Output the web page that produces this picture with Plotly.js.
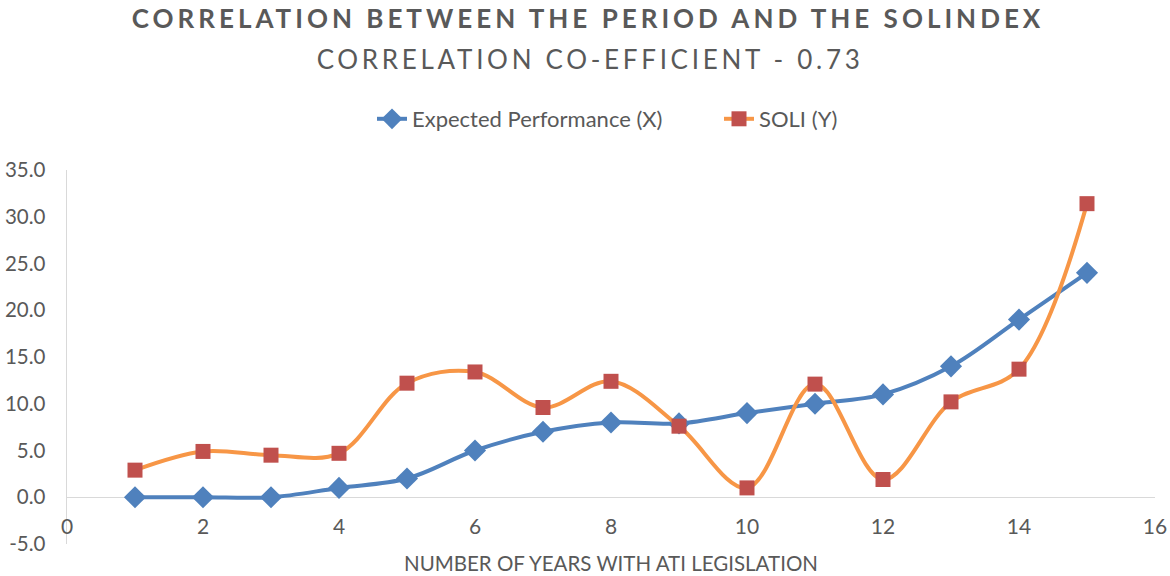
<!DOCTYPE html>
<html>
<head>
<meta charset="utf-8">
<script src="https://cdn.plot.ly/plotly-3.0.1.min.js"></script>
<style>
  html, body { margin: 0; padding: 0; background: #fff; }
  #chart { width: 1170px; height: 576px; }
</style>
</head>
<body>
<div id="chart"></div>
<script>
const years = [1, 2, 3, 4, 5, 6, 7, 8, 9, 10, 11, 12, 13, 14, 15];
const expectedPerformance = [0, 0, 0, 1.0, 2.0, 5.0, 7.0, 8.0, 7.9, 9.0, 10.0, 11.0, 14.0, 19.0, 24.0];
const soli = [2.9, 4.9, 4.5, 4.7, 12.2, 13.4, 9.6, 12.4, 7.6, 1.0, 12.1, 1.9, 10.2, 13.7, 31.4];
const seriesNames = ['Expected Performance (X)', 'SOLI (Y)'];
const xTickVals = [0, 2, 4, 6, 8, 10, 12, 14, 16];
const xTickText = ['0', '2', '4', '6', '8', '10', '12', '14', '16'];
const yTickVals = [-5, 0, 5, 10, 15, 20, 25, 30, 35];
const yTickText = ['-5.0', '0.0', '5.0', '10.0', '15.0', '20.0', '25.0', '30.0', '35.0'];
const titleText = 'CORRELATION BETWEEN THE PERIOD AND THE SOLINDEX';
const subtitleText = 'CORRELATION CO-EFFICIENT - 0.73';
const xTitle = 'NUMBER OF YEARS WITH ATI LEGISLATION';

const FONT = 'Lato, "Open Sans", sans-serif';
const GREY = '#595959';

const traces = [
  {
    x: years, y: expectedPerformance, name: seriesNames[0], legend: 'legend',
    type: 'scatter', mode: 'lines+markers',
    line: { color: '#4F81BD', width: 4, shape: 'spline', smoothing: 1 },
    marker: { symbol: 'diamond', size: 17, color: '#4F81BD' }
  },
  {
    x: years, y: soli, name: seriesNames[1], legend: 'legend2',
    type: 'scatter', mode: 'lines+markers',
    line: { color: '#F79646', width: 4, shape: 'spline', smoothing: 1 },
    marker: { symbol: 'square', size: 15, color: '#C0504D' }
  }
];

const legendStyle = {
  orientation: 'h', xanchor: 'left', xref: 'container',
  y: 1 - 119 / 576, yanchor: 'middle', yref: 'container',
  font: { family: FONT, size: 22, color: GREY }
};

const layout = {
  width: 1170, height: 576,
  margin: { l: 67, r: 15, t: 170, b: 32 },
  paper_bgcolor: '#ffffff', plot_bgcolor: '#ffffff',
  font: { family: FONT, color: GREY },
  showlegend: true,
  title: {
    text: '<b>' + titleText + '</b>',
    font: { family: FONT, size: 26, color: GREY },
    x: 588 / 1170, xanchor: 'center', xref: 'container',
    y: 1 - 19 / 576, yanchor: 'middle', yref: 'container'
  },
  annotations: [
    {
      text: subtitleText, showarrow: false,
      xref: 'paper', yref: 'paper', x: (590 - 67) / 1088, xanchor: 'center',
      y: (544 - 59) / 374, yanchor: 'middle',
      font: { family: FONT, size: 26, color: GREY }
    }
  ],
  legend: Object.assign({}, legendStyle, { x: 372 / 1170 }),
  legend2: Object.assign({}, legendStyle, { x: 719 / 1170 }),
  xaxis: {
    range: [0, 16], tickvals: xTickVals, ticktext: xTickText,
    showgrid: false, zeroline: false, showline: false,
    anchor: 'free', position: 5 / 40,
    ticks: '', ticklabelstandoff: 15,
    tickfont: { family: FONT, size: 21, color: GREY },
    title: { text: xTitle, font: { family: FONT, size: 20.5, color: GREY }, standoff: 19 },
    fixedrange: true
  },
  yaxis: {
    range: [-5, 35], tickvals: yTickVals, ticktext: yTickText,
    showgrid: false, zeroline: true, zerolinecolor: '#D9D9D9', zerolinewidth: 1.5,
    showline: true, linecolor: '#D9D9D9', linewidth: 1.5,
    ticks: '', ticklabelstandoff: 16,
    tickfont: { family: FONT, size: 20.5, color: GREY },
    fixedrange: true
  }
};

Plotly.newPlot('chart', traces, layout, { displayModeBar: false, staticPlot: true }).then(function (gd) {
  const t = gd.querySelector('.gtitle');
  if (t) t.style.letterSpacing = '4px';
  const a = gd.querySelector('.annotation-text');
  if (a) a.style.letterSpacing = '3.7px';
});
</script>
</body>
</html>
